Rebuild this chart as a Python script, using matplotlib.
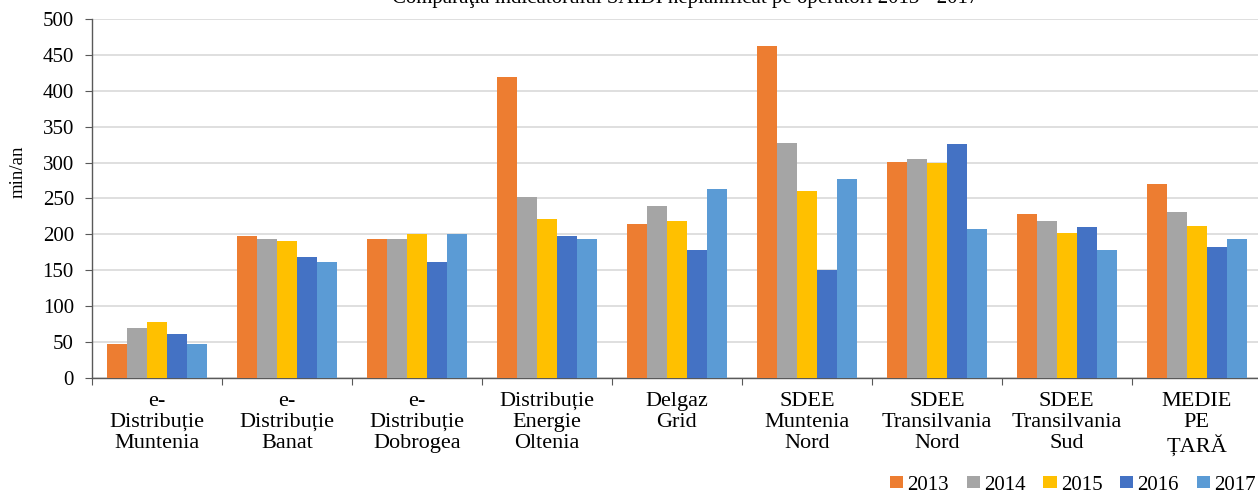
import matplotlib
matplotlib.use("Agg")
import matplotlib.pyplot as plt
import numpy as np

categories = ["e-\nDistribuție\nMuntenia", "e-\nDistribuție\nBanat", "e-\nDistribuție\nDobrogea",
              "Distribuție\nEnergie\nOltenia", "Delgaz\nGrid", "SDEE\nMuntenia\nNord",
              "SDEE\nTransilvania\nNord", "SDEE\nTransilvania\nSud", "MEDIE\nPE\nȚARĂ"]
years = ["2013", "2014", "2015", "2016", "2017"]
v2013 = [48, 198, 193, 419, 214, 463, 301, 228, 270]
v2014 = [69, 194, 194, 252, 240, 327, 305, 218, 231]
v2015 = [78, 191, 201, 222, 218, 260, 299, 202, 212]
v2016 = [61, 169, 162, 198, 178, 151, 326, 210, 183]
v2017 = [47, 161, 201, 193, 263, 277, 208, 178, 194]
series = [v2013, v2014, v2015, v2016, v2017]
colors = ["#ED7D31", "#A5A5A5", "#FFC000", "#4472C4", "#5B9BD5"]

plt.rcParams['font.family'] = ['Liberation Serif', 'DejaVu Serif']

fig = plt.figure(figsize=(12.58, 4.95), dpi=100)
ax = fig.add_axes([0.0731, 0.2364, 0.9299, 0.7252])

n = len(categories)
x = np.arange(n) + 0.5
w = 0.153
for k, (vals, c, yr) in enumerate(zip(series, colors, years)):
    ax.bar(x + (k - 2) * w, vals, width=w, color=c, label=yr, zorder=3)

ax.set_xlim(0, n)
ax.set_ylim(0, 500)
ax.set_yticks(np.arange(0, 501, 50))
ax.yaxis.grid(True, color="#d9d9d9", linewidth=1.2, zorder=0)
ax.set_axisbelow(True)

ax.set_xticks(np.arange(0, n + 1))
ax.set_xticklabels([])
ax.set_xticks(x, minor=True)
ax.set_xticklabels(categories, minor=True, fontsize=16, linespacing=1.15)
ax.tick_params(axis='x', which='minor', length=0, pad=10)
ax.tick_params(axis='x', which='major', length=5, color="#595959", direction='out')
ax.tick_params(axis='y', length=5, color="#595959", labelsize=15, pad=8)

for s in ["top", "right"]:
    ax.spines[s].set_visible(False)
for s in ["left", "bottom"]:
    ax.spines[s].set_color("#595959")
    ax.spines[s].set_linewidth(1.0)

ax.set_ylabel("min/an", fontsize=13.5)
ax.yaxis.set_label_coords(-0.056, 0.574)

fig.text(0.545, 1.003, "Comparaţia indicatorului SAIDI neplanificat pe operatori 2013 - 2017",
         ha="center", va="center", fontsize=15)

fig.legend(loc="center right", bbox_to_anchor=(0.998, 0.02), ncol=5, frameon=False,
           fontsize=15, handlelength=0.63, handleheight=0.48, handletextpad=0.2,
           columnspacing=0.85, borderpad=0.0, borderaxespad=0.0)

fig.savefig("out.png", dpi=100)
